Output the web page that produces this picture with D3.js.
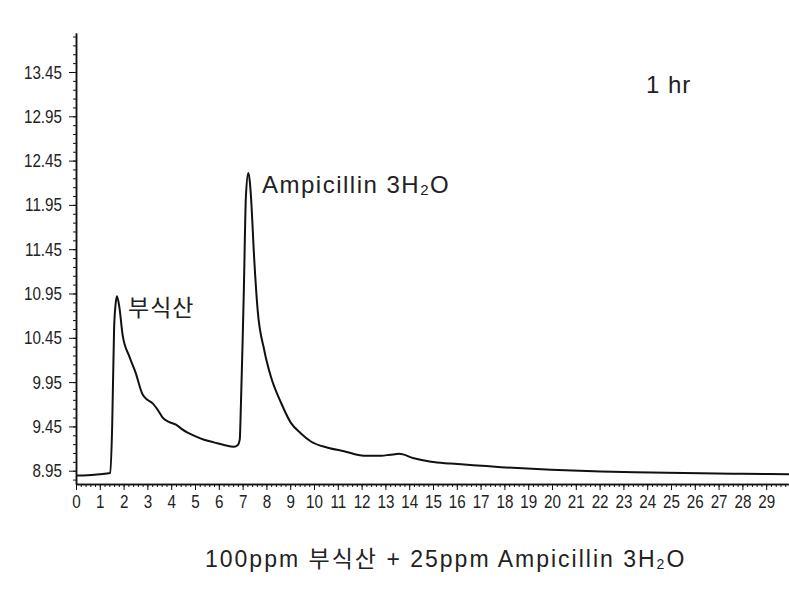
<!DOCTYPE html>
<html>
<head>
<meta charset="utf-8">
<script src="https://cdn.jsdelivr.net/npm/d3@7"></script>
<style>
  body { margin: 0; background: #fff; }
  .lbl { font-family: "Liberation Sans", "Noto Sans CJK KR", sans-serif; fill: #222; }
</style>
</head>
<body>
<script>
// retention time (min) and detector signal
var times = [0, 0.5, 1.0, 1.44, 1.52, 1.60, 1.66, 1.72, 1.82, 1.96, 2.24, 2.50, 2.80, 3.0, 3.22,
  3.45, 3.64, 3.9, 4.20, 4.45, 4.69, 5.0, 5.38, 5.8, 6.22, 6.64, 6.80, 6.88, 6.93, 7.0, 7.05,
  7.14, 7.24, 7.30, 7.35, 7.49, 7.63, 7.91, 8.19, 8.61, 9.03, 9.45, 9.87, 10.58, 11.26, 12.1,
  12.82, 13.2, 13.58, 14.2, 14.92, 15.75, 17.86, 19.96, 22.06, 24.16, 26.26, 28.0, 30.0];
var signal = [8.895, 8.90, 8.91, 8.925, 9.45, 10.55, 10.82, 10.92, 10.80, 10.48, 10.24, 10.06, 9.81, 9.75, 9.71,
  9.63, 9.55, 9.50, 9.47, 9.42, 9.38, 9.34, 9.30, 9.27, 9.24, 9.22, 9.24, 9.30, 9.70, 10.40, 10.96,
  12.05, 12.31, 12.22, 12.05, 11.33, 10.77, 10.31, 10.01, 9.72, 9.49, 9.37, 9.28, 9.21, 9.17, 9.12,
  9.12, 9.13, 9.14, 9.09, 9.05, 9.03, 8.99, 8.96, 8.94, 8.93, 8.92, 8.915, 8.91];

var yTicks = [8.95, 9.45, 9.95, 10.45, 10.95, 11.45, 11.95, 12.45, 12.95, 13.45];
var xTicks = d3.range(0, 30);

var svg = d3.select("body").append("svg")
  .attr("width", 789)
  .attr("height", 592);

var x = d3.scaleLinear().domain([0, 30]).range([76, 790]);
var y = d3.scaleLinear().domain([8.80, 13.89]).range([484, 33]);

// minor ticks first so major ones sit on top
svg.append("g")
  .attr("transform", "translate(0,484)")
  .call(d3.axisBottom(x).tickValues(d3.range(0, 30.01, 0.2)).tickFormat("").tickSize(3).tickSizeOuter(0));
svg.append("g")
  .attr("transform", "translate(76,0)")
  .call(d3.axisLeft(y).tickValues(d3.range(8.85, 13.9, 0.1)).tickFormat("").tickSize(3).tickSizeOuter(0));

var xAxis = svg.append("g")
  .attr("transform", "translate(0,484)")
  .call(d3.axisBottom(x).tickValues(xTicks).tickFormat(d3.format("d")).tickSize(6).tickPadding(5).tickSizeOuter(0));
var yAxis = svg.append("g")
  .attr("transform", "translate(76,0)")
  .call(d3.axisLeft(y).tickValues(yTicks).tickFormat(d3.format(".2f")).tickSize(7).tickPadding(7).tickSizeOuter(0));

svg.selectAll(".domain").attr("stroke", "#111").attr("stroke-width", 1.5);
svg.selectAll(".tick line").attr("stroke", "#111");

// the original labels use a narrow, tall face: squeeze the glyphs
svg.selectAll(".tick text")
  .attr("fill", "#222")
  .style("font-family", "'Liberation Sans', sans-serif")
  .style("font-size", "19px")
  .each(function() {
    var len = this.getComputedTextLength();
    if (len > 0) {
      d3.select(this).attr("textLength", len * 0.8).attr("lengthAdjust", "spacingAndGlyphs");
    }
  });

var line = d3.line()
  .x(function(d, i) { return x(times[i]); })
  .y(function(d) { return y(d); })
  .curve(d3.curveMonotoneX);

svg.append("path")
  .datum(signal)
  .attr("d", line)
  .attr("fill", "none")
  .attr("stroke", "#111")
  .attr("stroke-width", 2);

// labels
svg.append("text").attr("class", "lbl")
  .attr("x", 646).attr("y", 93)
  .attr("font-size", 24)
  .style("letter-spacing", "1px")
  .text("1 hr");

svg.append("text").attr("class", "lbl")
  .attr("x", 128).attr("y", 316)
  .attr("font-size", 23)
  .style("font-family", "'Noto Sans CJK KR', sans-serif")
  .style("letter-spacing", "1px")
  .text("부식산");

var amp = svg.append("text").attr("class", "lbl")
  .attr("x", 262).attr("y", 193)
  .attr("font-size", 24)
  .style("letter-spacing", "1.5px");
amp.append("tspan").text("Ampicillin 3H");
amp.append("tspan").attr("font-size", 15).attr("dy", 2).text("2");
amp.append("tspan").attr("dy", -2).text("O");

var cap = svg.append("text").attr("class", "lbl")
  .attr("x", 205).attr("y", 567)
  .attr("font-size", 23)
  .style("letter-spacing", "2px");
cap.append("tspan").text("100ppm ");
cap.append("tspan").style("font-family", "'Noto Sans CJK KR', sans-serif").text("부식산");
cap.append("tspan").text(" + 25ppm Ampicillin 3H");
cap.append("tspan").attr("font-size", 14).attr("dy", 2).text("2");
cap.append("tspan").attr("dy", -2).text("O");
</script>
</body>
</html>
